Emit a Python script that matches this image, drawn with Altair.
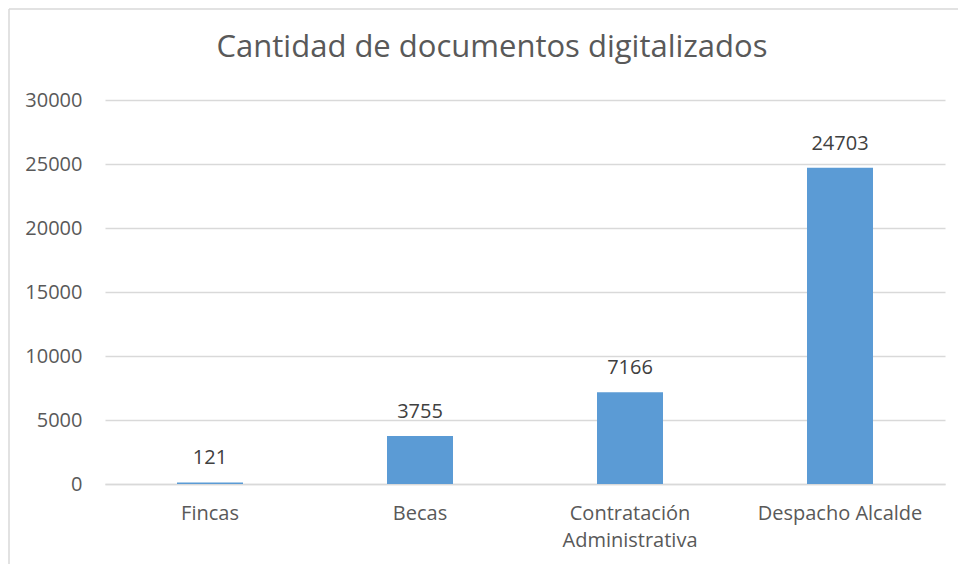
import altair as alt
import pandas as pd

categorias = ["Fincas", "Becas", "Contratación Administrativa", "Despacho Alcalde"]
cantidades = [121, 3755, 7166, 24703]
titulo = "Cantidad de documentos digitalizados"
y_ticks = [0, 5000, 10000, 15000, 20000, 25000, 30000]

df = pd.DataFrame({"categoria": categorias, "cantidad": cantidades})

FONT = "Open Sans"
W, H = 840, 384

x_enc = alt.X(
    "categoria:N",
    sort=categorias,
    scale=alt.Scale(paddingInner=0, paddingOuter=0),
    axis=alt.Axis(
        title=None,
        labelAngle=0,
        labelFont=FONT,
        labelFontSize=20,
        labelColor="#595959",
        labelPadding=19,
        labelLineHeight=27,
        labelExpr="datum.value == 'Contratación Administrativa' ? ['Contratación', 'Administrativa'] : datum.value",
        ticks=False,
        domain=True,
        domainColor="#d9d9d9",
        domainWidth=1.5,
        grid=False,
    ),
)
y_enc = alt.Y(
    "cantidad:Q",
    scale=alt.Scale(domain=[0, 30000], nice=False),
    axis=alt.Axis(
        title=None,
        values=y_ticks,
        format="d",
        labelFont=FONT,
        labelFontSize=20,
        labelColor="#595959",
        labelPadding=23,
        ticks=False,
        domain=False,
        grid=True,
        gridColor="#d9d9d9",
        gridWidth=1.3,
    ),
)

base = alt.Chart(df)
bars = base.mark_bar(color="#5B9BD5", size=66).encode(x=x_enc, y=y_enc)
labels = base.mark_text(
    font=FONT, fontSize=20, color="#404040", baseline="alphabetic", dy=-18
).encode(x=alt.X("categoria:N", sort=categorias), y="cantidad:Q", text="cantidad:Q")

title_df = pd.DataFrame({"t": [titulo]})
title_mark = alt.Chart(title_df).mark_text(
    font=FONT, fontSize=31, color="#595959", baseline="alphabetic", align="center"
).encode(x=alt.value(387), y=alt.value(-43), text="t:N")

border_top = alt.Chart(title_df).mark_rule(color="#d9d9d9", strokeWidth=1.5).encode(
    x=alt.value(-96), x2=alt.value(870), y=alt.value(-91)
)
border_left = alt.Chart(title_df).mark_rule(color="#d9d9d9", strokeWidth=1.5).encode(
    x=alt.value(-96), y=alt.value(-91), y2=alt.value(480)
)

chart = alt.layer(border_top, border_left, bars, labels, title_mark).properties(
    width=W,
    height=H,
    autosize=alt.AutoSizeParams(type="none"),
    padding={"left": 97, "top": 92, "right": 13, "bottom": 80},
    background="white",
).configure_view(stroke=None)

chart.save("out.html", embed_options={"renderer": "svg", "actions": False})
